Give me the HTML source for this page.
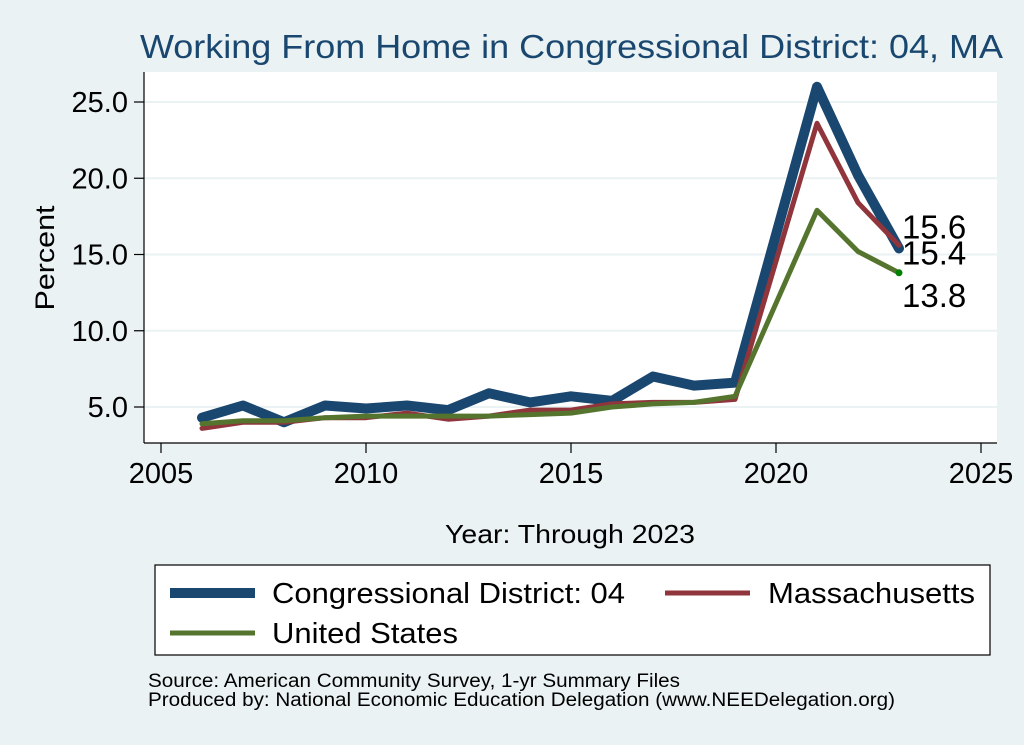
<!DOCTYPE html>
<html><head><meta charset="utf-8"><style>
body{margin:0;background:#eaf2f3;}
svg{display:block;font-family:"Liberation Sans",sans-serif;}
</style></head><body>
<svg id="chart" width="1024" height="745" viewBox="0 0 1024 745">
<rect x="0" y="0" width="1024" height="745" fill="#eaf2f3"/>
<text x="140" y="58" font-size="33" fill="#1a476f" textLength="863" lengthAdjust="spacingAndGlyphs">Working From Home in Congressional District: 04, MA</text>
<rect x="144" y="72" width="853" height="371" fill="#fff"/>
<g id="grid"></g><g id="axes"></g><g id="series"></g><g id="labels"></g>
<text x="54" y="258" transform="rotate(-90 54 258)" text-anchor="middle" font-size="27" fill="#000" textLength="105" lengthAdjust="spacingAndGlyphs">Percent</text>
<text x="445" y="543" font-size="26" fill="#000" textLength="250" lengthAdjust="spacingAndGlyphs">Year: Through 2023</text>
<g>
<rect x="155" y="565" width="835" height="90" fill="#fff" stroke="#000" stroke-width="1.2"/>
<g><line x1="170" y1="593" x2="255" y2="593" stroke="#1a476f" stroke-width="10"/><text x="272" y="603" font-size="29" textLength="353" lengthAdjust="spacingAndGlyphs">Congressional District: 04</text></g>
<g><line x1="665" y1="593" x2="750" y2="593" stroke="#90353b" stroke-width="5"/><text x="768" y="603" font-size="29" textLength="207" lengthAdjust="spacingAndGlyphs">Massachusetts</text></g>
<g><line x1="170" y1="633" x2="255" y2="633" stroke="#55752f" stroke-width="5"/><text x="272" y="643" font-size="29" textLength="186" lengthAdjust="spacingAndGlyphs">United States</text></g>
</g>
<text x="148" y="687" font-size="19" textLength="532" lengthAdjust="spacingAndGlyphs">Source: American Community Survey, 1-yr Summary Files</text>
<text x="148" y="706" font-size="19" textLength="747" lengthAdjust="spacingAndGlyphs">Produced by: National Economic Education Delegation (www.NEEDelegation.org)</text>
</svg>
<script>
const years=[2006,2007,2008,2009,2010,2011,2012,2013,2014,2015,2016,2017,2018,2019,2021,2022,2023];
const cdValues=[4.3,5.1,4.0,5.1,4.9,5.1,4.8,5.9,5.3,5.7,5.4,7.0,6.4,6.6,26.0,20.2,15.4];
const maValues=[3.6,4.0,4.0,4.3,4.3,4.6,4.2,4.4,4.8,4.8,5.2,5.3,5.3,5.5,23.6,18.4,15.6];
const usValues=[3.9,4.1,4.1,4.3,4.4,4.4,4.4,4.4,4.5,4.6,5.0,5.2,5.3,5.7,17.9,15.2,13.8];
const xTicks=[2005,2010,2015,2020,2025];
const yTicks=[5,10,15,20,25];
const NS="http://www.w3.org/2000/svg";
function X(v){return 161+(v-2005)*41;}
function Y(v){return 407-(v-5)*15.25;}
function mk(tag,attrs,parent){const e=document.createElementNS(NS,tag);for(const k in attrs)e.setAttribute(k,attrs[k]);parent.appendChild(e);return e;}
const grid=document.getElementById('grid'),axes=document.getElementById('axes'),series=document.getElementById('series'),labels=document.getElementById('labels');
yTicks.forEach(t=>{
  const g=mk('line',{x1:144,x2:997,y1:Y(t),y2:Y(t),stroke:'#eaf2f3','stroke-width':2},grid);
  
  
  const tk=mk('line',{x1:134,x2:144,y1:Y(t),y2:Y(t),stroke:'#000','stroke-width':1.2},axes);
  
  
  const tx=mk('text',{x:128,y:Y(t)+10,'text-anchor':'end','font-size':29},axes);
  tx.textContent=t.toFixed(1);
  
  
});
xTicks.forEach(t=>{
  const tk=mk('line',{x1:X(t),x2:X(t),y1:443,y2:453,stroke:'#000','stroke-width':1.2},axes);
  
  
  const tx=mk('text',{x:X(t),y:483,'text-anchor':'middle','font-size':29},axes);
  tx.textContent=t;
  
  
});
const ya=mk('line',{x1:144,x2:144,y1:72,y2:443,stroke:'#000','stroke-width':1.2},axes);


const xa=mk('line',{x1:144,x2:997,y1:443,y2:443,stroke:'#000','stroke-width':1.2},axes);


function draw(vals,color,w,name){
  const pts=years.map((y,i)=>X(y).toFixed(1)+','+Y(vals[i]).toFixed(1)).join(' ');
  const p=mk('polyline',{points:pts,fill:'none',stroke:color,'stroke-width':w,'stroke-linejoin':'round','stroke-linecap':'round'},series);
  
  
}
draw(cdValues,'#1a476f',10,'series-congressional-district');
draw(maValues,'#90353b',5,'series-massachusetts');
draw(usValues,'#55752f',5,'series-united-states');
const li=years.length-1;
const dot=mk('circle',{cx:X(years[li]),cy:Y(usValues[li]),r:3.5,fill:'#008000'},series);


[[maValues,-7,'label-massachusetts'],[cdValues,16,'label-congressional-district'],[usValues,34,'label-united-states']].forEach(([v,dy,n])=>{
  const t=mk('text',{x:X(years[li])+3,y:Y(v[li])+dy,'font-size':33},labels);
  t.textContent=v[li].toFixed(1);
  
  
});
</script>
</body></html>
